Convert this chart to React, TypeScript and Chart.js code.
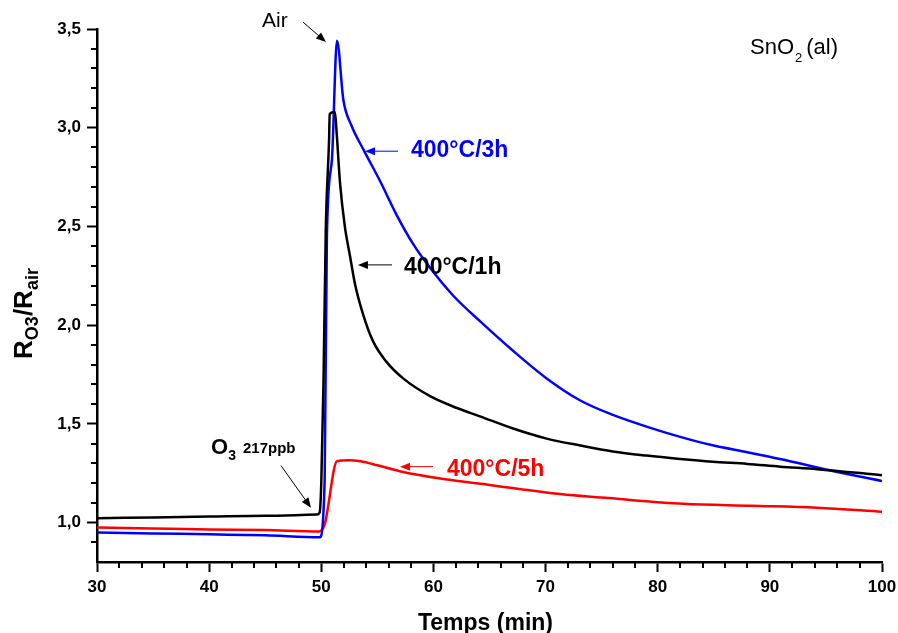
import React, { useEffect, useRef } from "react";
import { Chart, registerables } from "chart.js";
Chart.register(...registerables);

// ---- Data (time in min, ratio R_O3/R_air) ----
const t1h = [30, 35, 40, 45, 49.6, 49.85, 50.0, 50.2, 50.4, 50.7, 50.75, 51.22, 51.37, 51.67, 52.1, 52.56, 53.0, 53.7, 54.6, 55.8, 57.3, 59.7, 62.1, 64.15, 67.1, 70.1, 73.1, 76.0, 79.0, 82.0, 84.9, 88.0, 90.9, 94.2, 100];
const v1h = [1.022, 1.026, 1.030, 1.034, 1.040, 1.05, 1.2, 1.72, 2.48, 2.95, 3.07, 3.08, 2.975, 2.72, 2.50, 2.35, 2.21, 2.06, 1.92, 1.815, 1.73, 1.64, 1.58, 1.538, 1.476, 1.425, 1.39, 1.36, 1.339, 1.322, 1.308, 1.297, 1.283, 1.27, 1.24];

const t3h = [30, 35, 40, 45, 49.85, 50.3, 50.5, 50.95, 51.4, 51.97, 52.7, 53.75, 55.24, 56.7, 58.2, 59.7, 61.75, 64.15, 67.1, 70.1, 73.1, 76.0, 79.0, 82.0, 84.9, 88.0, 90.9, 95.7, 100];
const v3h = [0.950, 0.945, 0.940, 0.935, 0.925, 1.21, 2.45, 2.84, 3.44, 3.14, 3.01, 2.89, 2.73, 2.56, 2.41, 2.29, 2.15, 2.02, 1.87, 1.73, 1.618, 1.545, 1.486, 1.434, 1.391, 1.356, 1.322, 1.26, 1.21];

const t5h = [30, 35, 40, 45, 49.8, 50.3, 51.4, 52.5, 53.5, 55, 57, 60.9, 65, 70.4, 76.4, 82.3, 88.3, 94.2, 100];
const v5h = [0.975, 0.970, 0.965, 0.962, 0.955, 0.99, 1.31, 1.315, 1.31, 1.29, 1.26, 1.22, 1.19, 1.15, 1.12, 1.095, 1.085, 1.075, 1.055];

const seriesNames = ["400°C/1h", "400°C/3h", "400°C/5h"];
const seriesColors = ["#000000", "#0000ff", "#ff0000"];

const xMajorTicks = [30, 40, 50, 60, 70, 80, 90, 100];
const xMinorTicks = [32, 34, 36, 38, 42, 44, 46, 48, 52, 54, 56, 58, 62, 64, 66, 68, 72, 74, 76, 78, 82, 84, 86, 88, 92, 94, 96, 98];
const yMajorTicks = [1.0, 1.5, 2.0, 2.5, 3.0, 3.5];
const yMinorTicks = [0.9, 1.1, 1.2, 1.3, 1.4, 1.6, 1.7, 1.8, 1.9, 2.1, 2.2, 2.3, 2.4, 2.6, 2.7, 2.8, 2.9, 3.1, 3.2, 3.3, 3.4];

// annotation anchors (data coordinates)
const labelAnchors = [
  { text: "400°C/1h", t: 57.38, v: 2.259, color: "#000000", arrow: [56.31, 2.305, 53.27, 2.305] },
  { text: "400°C/3h", t: 58.0, v: 2.854, color: "#0000ff", arrow: [56.84, 2.881, 53.9, 2.881] },
  { text: "400°C/5h", t: 61.21, v: 1.237, color: "#ff0000", arrow: [59.96, 1.283, 57.02, 1.283] },
];
const airLabel = { t: 44.71, v: 3.51, arrow: [48.37, 3.535, 50.42, 3.434] };
const o3Label = { t: 40.17, v: 1.349, arrow: [46.41, 1.288, 49.08, 1.075] };
const snoLabel = { t: 88.23, v: 3.373 };

const FONT = "'Liberation Sans', Arial, Helvetica, sans-serif";

function arrow(ctx: CanvasRenderingContext2D, x1: number, y1: number, x2: number, y2: number, color: string) {
  const ang = Math.atan2(y2 - y1, x2 - x1);
  const hl = 10, hw = 4;
  ctx.strokeStyle = color;
  ctx.fillStyle = color;
  ctx.lineWidth = 1;
  ctx.beginPath();
  ctx.moveTo(x1, y1);
  ctx.lineTo(x2 - Math.cos(ang) * hl * 0.8, y2 - Math.sin(ang) * hl * 0.8);
  ctx.stroke();
  ctx.beginPath();
  ctx.moveTo(x2, y2);
  ctx.lineTo(x2 - Math.cos(ang) * hl - Math.sin(ang) * hw, y2 - Math.sin(ang) * hl + Math.cos(ang) * hw);
  ctx.lineTo(x2 - Math.cos(ang) * hl + Math.sin(ang) * hw, y2 - Math.sin(ang) * hl - Math.cos(ang) * hw);
  ctx.closePath();
  ctx.fill();
}

type Piece = { s: string; font: string; dy: number; dx?: number };
function drawPieces(ctx: CanvasRenderingContext2D, pieces: Piece[], x: number, y: number, align: "left" | "center") {
  let total = 0;
  for (const p of pieces) { ctx.font = p.font; total += ctx.measureText(p.s).width + (p.dx || 0); }
  let cx = align === "center" ? x - total / 2 : x;
  ctx.textAlign = "left";
  ctx.textBaseline = "alphabetic";
  for (const p of pieces) {
    ctx.font = p.font;
    cx += p.dx || 0;
    ctx.fillText(p.s, cx, y + p.dy);
    cx += ctx.measureText(p.s).width;
  }
}

const overlay = {
  id: "overlay",
  afterDraw(chart: any) {
    const { ctx, chartArea } = chart;
    const xs = chart.scales.x, ys = chart.scales.y;
    const px = (t: number) => xs.getPixelForValue(t);
    const py = (v: number) => ys.getPixelForValue(v);
    ctx.save();
    // minor ticks
    ctx.strokeStyle = "#000";
    ctx.lineWidth = 2;
    ctx.beginPath();
    for (const t of xMinorTicks) {
      const X = Math.round(px(t));
      ctx.moveTo(X, chartArea.bottom);
      ctx.lineTo(X, chartArea.bottom + 6);
    }
    for (const v of yMinorTicks) {
      const Y = Math.round(py(v));
      ctx.moveTo(chartArea.left, Y);
      ctx.lineTo(chartArea.left - 6, Y);
    }
    ctx.stroke();

    // series labels
    for (const a of labelAnchors) {
      ctx.fillStyle = a.color;
      ctx.font = `bold 23px ${FONT}`;
      ctx.textAlign = "left";
      ctx.textBaseline = "alphabetic";
      ctx.fillText(a.text, px(a.t), py(a.v));
      arrow(ctx, px(a.arrow[0]), py(a.arrow[1]), px(a.arrow[2]), py(a.arrow[3]), a.color);
    }
    // Air
    ctx.fillStyle = "#000";
    ctx.font = `21px ${FONT}`;
    ctx.textAlign = "left";
    ctx.fillText("Air", px(airLabel.t), py(airLabel.v));
    arrow(ctx, px(airLabel.arrow[0]), py(airLabel.arrow[1]), px(airLabel.arrow[2]), py(airLabel.arrow[3]), "#000");
    // O3 217ppb
    ctx.fillStyle = "#000";
    drawPieces(ctx, [
      { s: "O", font: `bold 22px ${FONT}`, dy: 0 },
      { s: "3", font: `bold 14px ${FONT}`, dy: 6 },
      { s: "217ppb", font: `bold 15px ${FONT}`, dy: -1, dx: 7 },
    ], px(o3Label.t), py(o3Label.v), "left");
    arrow(ctx, px(o3Label.arrow[0]), py(o3Label.arrow[1]), px(o3Label.arrow[2]), py(o3Label.arrow[3]), "#000");
    // SnO2 (al)
    drawPieces(ctx, [
      { s: "SnO", font: `22px ${FONT}`, dy: 0 },
      { s: "2", font: `13px ${FONT}`, dy: 8, dx: 1 },
      { s: "(al)", font: `22px ${FONT}`, dy: 0, dx: 4 },
    ], px(snoLabel.t), py(snoLabel.v), "left");

    // axis titles
    ctx.fillStyle = "#000";
    ctx.font = `bold 23px ${FONT}`;
    ctx.textAlign = "center";
    ctx.fillText("Temps (min)", (chartArea.left + chartArea.right) / 2 - 4, chartArea.bottom + 68);

    ctx.save();
    ctx.translate(chartArea.left - 65, (chartArea.top + chartArea.bottom) / 2 + 18);
    ctx.rotate(-Math.PI / 2);
    drawPieces(ctx, [
      { s: "R", font: `bold 26px ${FONT}`, dy: 0 },
      { s: "O3", font: `bold 18px ${FONT}`, dy: 6 },
      { s: "/R", font: `bold 26px ${FONT}`, dy: 0 },
      { s: "air", font: `bold 18px ${FONT}`, dy: 6 },
    ], 0, 0, "center");
    ctx.restore();
    ctx.restore();
  },
};

export default function App() {
  const ref = useRef<HTMLCanvasElement | null>(null);
  useEffect(() => {
    document.body.style.margin = "0";
    const canvas = ref.current!;
    const times = [t1h, t3h, t5h];
    const vals = [v1h, v3h, v5h];
    const datasets = seriesNames.map((name, i) => ({
      label: name,
      data: times[i].map((t, j) => ({ x: t, y: vals[i][j] })),
      borderColor: seriesColors[i],
      backgroundColor: seriesColors[i],
      borderWidth: 2.5,
      pointRadius: 0,
      cubicInterpolationMode: "monotone" as const,
      fill: false,
    }));
    const chart = new Chart(canvas, {
      type: "line",
      data: { datasets },
      options: {
        animation: false,
        responsive: false,
        devicePixelRatio: 1,
        layout: { padding: { left: 0, right: 16, top: 29, bottom: 0 } },
        plugins: { legend: { display: false }, tooltip: { enabled: false } },
        scales: {
          x: {
            type: "linear",
            min: 30,
            max: 100,
            afterFit: (s: any) => { s.height = 71; s.paddingLeft = 0; s.paddingRight = 0; },
            afterBuildTicks: (s: any) => { s.ticks = xMajorTicks.map((v) => ({ value: v })); },
            grid: { drawOnChartArea: false, drawTicks: true, tickLength: 10, tickWidth: 2, tickColor: "#000" },
            border: { display: true, color: "#000", width: 2.5 },
            ticks: {
              color: "#000",
              font: { family: FONT, size: 17, weight: "bold" },
              padding: 5,
              maxRotation: 0,
              autoSkip: false,
              callback: (v: any) => String(v),
            },
          },
          y: {
            type: "linear",
            min: 0.8,
            max: 3.5,
            afterFit: (s: any) => { s.width = 97; s.paddingTop = 0; s.paddingBottom = 0; },
            afterBuildTicks: (s: any) => { s.ticks = yMajorTicks.map((v) => ({ value: v })); },
            grid: { drawOnChartArea: false, drawTicks: true, tickLength: 10, tickWidth: 2, tickColor: "#000" },
            border: { display: true, color: "#000", width: 2.5 },
            ticks: {
              color: "#000",
              font: { family: FONT, size: 17, weight: "bold" },
              padding: 6,
              autoSkip: false,
              callback: (v: any) => Number(v).toFixed(1).replace(".", ","),
            },
          },
        },
      },
      plugins: [overlay],
    });
    return () => chart.destroy();
  }, []);
  return <canvas ref={ref} width={898} height={633} style={{ display: "block", width: 898, height: 633 }} />;
}
